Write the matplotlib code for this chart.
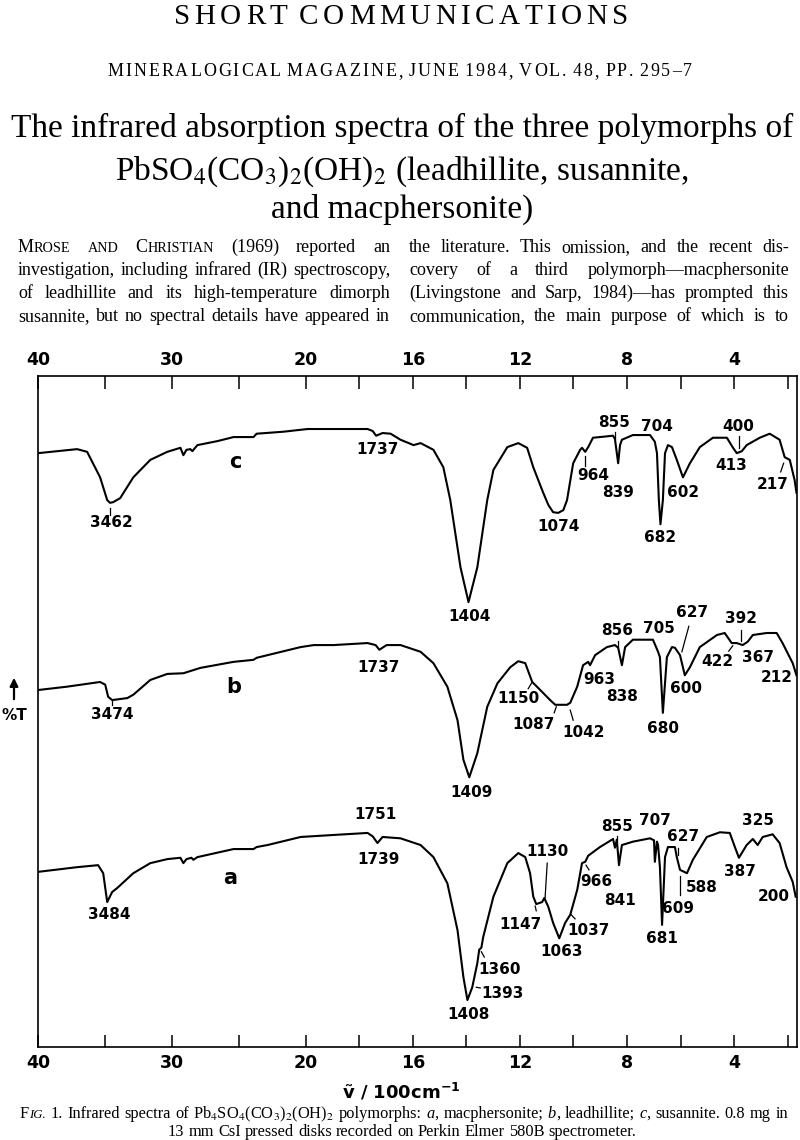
import numpy as np
import matplotlib
matplotlib.use('Agg')
import matplotlib.pyplot as plt
from matplotlib.patches import FancyArrowPatch

W, H = 800, 1140
SERIF = 'Liberation Serif'
SANS = 'DejaVu Sans'
plt.rcParams['mathtext.fontset'] = 'stix'

# spectrum c (susannite), wavenumber in cm-1 and relative %T
c_wn = [4000, 3708, 3633, 3536, 3483, 3462, 3438, 3386, 3288, 3161, 3034, 2936, 2914, 2891, 2862,
        2847, 2809, 2659, 2539, 2390, 2367, 2165, 1993, 1896, 1769, 1750, 1737, 1713, 1683, 1646,
        1597, 1571, 1523, 1486, 1460, 1422, 1392, 1359, 1322, 1299, 1247, 1206, 1173, 1150, 1113,
        1094, 1076, 1057, 1038, 1024, 1001, 975, 968, 956, 945, 927, 901, 852, 845, 833,
        826, 819, 778, 714, 696, 688, 681, 675, 666, 658, 647, 632, 614, 591, 565,
        528, 479, 427, 404, 390, 371, 353, 304, 267, 230, 211, 192, 174, 167]
c_T = [88.5, 89.1, 88.7, 84.9, 81.5, 81.1, 81.2, 81.8, 84.9, 87.5, 88.7, 89.3, 88.2, 89.0, 89.1,
       88.8, 89.7, 90.3, 90.9, 90.9, 91.4, 91.7, 92.1, 92.1, 92.1, 91.8, 91.1, 91.5, 91.4, 90.5,
       89.7, 90.0, 89.0, 86.4, 81.5, 71.5, 66.3, 71.5, 81.5, 86.0, 89.4, 90.0, 89.3, 86.4, 82.6,
       80.8, 79.7, 79.6, 80.0, 81.5, 87.0, 89.0, 89.3, 88.7, 89.4, 90.8, 90.9, 91.1, 90.6, 87.0,
       89.7, 90.5, 91.2, 91.2, 90.2, 88.5, 81.5, 77.9, 81.5, 88.5, 89.7, 89.4, 87.5, 84.9, 87.0,
       89.4, 90.8, 90.8, 89.3, 88.5, 88.8, 89.7, 90.8, 91.4, 90.5, 87.9, 87.5, 84.5, 82.6]

# spectrum b (leadhillite)
b_wn = [4000, 3783, 3536, 3498, 3476, 3446, 3333, 3288, 3161, 3034, 2914, 2787, 2539, 2390, 2367,
        2285, 2038, 1970, 1896, 1769, 1739, 1725, 1698, 1646, 1571, 1523, 1471, 1433, 1411, 1389,
        1359, 1322, 1284, 1236, 1206, 1180, 1154, 1124, 1087, 1068, 1024, 1012, 986, 964, 945,
        938, 919, 875, 845, 833, 819, 807, 778, 703, 684, 677, 666, 651, 632, 621,
        602, 584, 565, 528, 464, 435, 409, 390, 368, 349, 330, 278, 241, 219, 200, 181, 167]
b_T = [53.2, 53.7, 54.4, 54.0, 52.2, 51.7, 52.0, 52.5, 54.7, 55.6, 55.7, 56.5, 57.4, 57.7, 58.0,
       58.4, 59.6, 59.9, 59.9, 60.2, 59.9, 59.2, 59.9, 59.9, 58.9, 57.2, 53.7, 48.7, 42.8, 40.2,
       43.8, 50.7, 54.2, 56.6, 57.5, 57.2, 54.4, 53.2, 51.7, 51.0, 51.0, 51.3, 53.7, 56.9, 57.4,
       56.9, 58.4, 59.6, 59.9, 59.5, 56.9, 59.6, 60.7, 60.7, 58.9, 58.1, 49.8, 58.1, 59.6, 59.5,
       58.4, 55.4, 56.6, 59.6, 61.4, 61.7, 60.2, 60.2, 59.9, 60.4, 61.4, 61.7, 61.7, 60.2, 58.7, 57.2, 55.4]

# spectrum a (macphersonite)
a_wn = [4000, 3708, 3551, 3513, 3483, 3446, 3408, 3288, 3161, 3034, 2936, 2914, 2891, 2854, 2839,
        2809, 2539, 2390, 2367, 2285, 2038, 1896, 1769, 1750, 1732, 1713, 1646, 1571, 1523, 1471,
        1433, 1411, 1396, 1378, 1359, 1352, 1344, 1337, 1299, 1247, 1206, 1180, 1162, 1150, 1139,
        1117, 1109, 1094, 1076, 1053, 1031, 1012, 986, 968, 956, 945, 901, 852, 845, 838,
        830, 819, 778, 714, 699, 696, 688, 684, 677, 669, 658, 647, 621, 614, 602,
        576, 554, 502, 453, 416, 397, 382, 353, 330, 312, 293, 256, 230, 204, 181, 170]
a_T = [26.1, 26.8, 27.1, 25.9, 21.6, 23.1, 23.7, 25.9, 27.4, 28.0, 28.2, 27.4, 28.0, 28.2, 27.9,
       28.3, 29.5, 29.5, 29.8, 30.1, 31.3, 31.6, 31.9, 31.4, 30.4, 31.3, 31.1, 30.1, 28.3, 24.4,
       17.4, 10.4, 7.0, 8.9, 12.5, 14.5, 14.8, 16.4, 22.4, 27.4, 28.9, 28.3, 25.9, 22.4, 21.3,
       21.6, 22.2, 20.9, 18.5, 16.2, 18.5, 19.7, 23.4, 27.4, 27.6, 28.5, 29.8, 31.0, 29.7, 30.9,
       27.1, 30.1, 30.6, 31.1, 30.8, 27.6, 30.6, 30.1, 26.8, 18.2, 28.3, 29.8, 29.8, 28.3, 26.4,
       25.9, 27.9, 31.3, 32.0, 31.9, 29.8, 28.2, 30.1, 31.0, 30.1, 31.3, 31.7, 30.4, 26.8, 24.6, 22.4]

# peak labels: text, wavenumber position, %T position
peak_txt = ['3462', '1737', '1404', '1074', '682', '964', '839', '855', '704', '602', '400', '413', '217',
            '3474', '1737', '1409', '1150', '1087', '1042', '963', '838', '856', '705', '680', '600',
            '627', '392', '422', '367', '212',
            '1751', '1739', '3484', '1408', '1393', '1360', '1147', '1130', '1063', '1037', '966',
            '841', '855', '707', '627', '681', '609', '588', '325', '387', '200']
peak_wn = [3453, 1732, 1389, 1057, 675, 927, 833, 848, 688, 591, 386, 412, 256,
           3446, 1728, 1381, 1206, 1150, 964, 904, 819, 837, 681, 666, 580,
           558, 375, 464, 312, 241,
           1739, 1728, 3468, 1392, 1266, 1277, 1199, 1098, 1046, 942, 916,
           826, 837, 696, 591, 669, 610, 521, 312, 379, 252]
peak_T = [78.2, 89.1, 64.2, 77.6, 76.0, 85.2, 82.6, 93.1, 92.5, 82.7, 92.5, 86.6, 83.8,
          49.5, 56.6, 37.9, 51.9, 48.0, 46.8, 54.7, 52.2, 62.1, 62.3, 47.5, 53.4,
          64.7, 63.8, 57.4, 58.0, 55.0,
          34.6, 28.0, 19.7, 4.9, 8.0, 11.6, 18.2, 29.1, 14.2, 17.4, 24.6,
          21.9, 32.8, 33.8, 31.3, 16.2, 20.7, 23.8, 33.8, 26.1, 22.4]

# short leader lines from labels to bands: (wn0, T0, wn1, T1)
leaders = [(3462, 80.4, 3462, 79.3), (956, 88.1, 956, 86.6), (845, 91.7, 845, 90.6),
           (382, 91.1, 382, 89.3), (226, 85.7, 215, 87.0),
           (3446, 51.6, 3446, 50.9), (1169, 53.4, 1154, 54.4), (1072, 49.8, 1064, 50.7),
           (1001, 48.7, 1012, 50.2), (833, 60.5, 833, 59.6), (569, 62.7, 595, 58.9),
           (375, 62.1, 375, 60.5), (420, 59.0, 405, 59.8),
           (1363, 8.9, 1348, 8.8), (1344, 14.2, 1333, 13.4), (1143, 21.0, 1139, 20.3),
           (1106, 22.2, 1098, 27.4), (1008, 19.7, 994, 19.1), (953, 27.1, 942, 26.4),
           (837, 31.4, 837, 30.6), (610, 29.7, 610, 28.6), (602, 25.5, 602, 22.7)]

curve_names = ['c', 'b', 'a']
curve_wn = [2524, 2539, 2562]
curve_T = [87.2, 53.7, 25.2]

major_wn = [4000, 3000, 2000, 1600, 1200, 800, 400]
major_lbl = ['40', '30', '20', '16', '12', '8', '4']
minor_wn = [3500, 2500, 1800, 1400, 1000, 600, 200]


# PE 580B chart: scale doubles below 2000 cm-1
def fwd(w):
    w = np.asarray(w, dtype=float)
    return np.where(w >= 2000, w, 2000 - 2 * (2000 - w))


def inv(u):
    u = np.asarray(u, dtype=float)
    return np.where(u >= 2000, u, 2000 - (2000 - u) / 2)


fig = plt.figure(figsize=(8, 11.4), dpi=100)
fig.patch.set_facecolor('white')
rend = fig.canvas.get_renderer()


def fp(x, y):
    return (x / W, 1 - y / H)


def put_words(words, y, size, x0=None, x1=None, center=None):
    placed, widths = [], []
    for word in words:
        if isinstance(word, str):
            word = [(word, 1.0, 'normal')]
        parts = []
        for txt, sc, st in word:
            t = fig.text(0, 0, txt, fontsize=size * sc, family=SERIF, style=st,
                         va='baseline', ha='left')
            parts.append((t, t.get_window_extent(rend).width))
        placed.append(parts)
        widths.append(sum(p[1] for p in parts))
    if center is None:
        gap = (x1 - x0 - sum(widths)) / (len(words) - 1)
        x = x0
    else:
        gap = size * 100 / 72 * 0.25
        x = center - (sum(widths) + gap * (len(words) - 1)) / 2
    for parts in placed:
        for t, w in parts:
            t.set_position(fp(x, y))
            x += w
        x += gap


def tracked(s, y, size, x0, x1):
    words = s.split(' ')
    objs = []
    for word in words:
        row = []
        for ch in word:
            t = fig.text(0, 0, ch, fontsize=size, family=SERIF, va='baseline', ha='left')
            row.append((t, t.get_window_extent(rend).width))
        objs.append(row)
    space = size * 100 / 72 * 0.25
    total = sum(w for row in objs for _, w in row) + space * (len(words) - 1)
    ngap = sum(len(row) for row in objs) - 1
    g = (x1 - x0 - total) / ngap
    x = x0
    for row in objs:
        for t, w in row:
            t.set_position(fp(x, y))
            x += w + g
        x += space


# page header and title
tracked('SHORT COMMUNICATIONS', 24, 21, 174, 628)
tracked('MINERALOGICAL MAGAZINE, JUNE 1984, VOL. 48, PP. 295\u20137', 76, 13, 108, 692)
fig.text(*fp(402, 137), 'The infrared absorption spectra of the three polymorphs of',
         family=SERIF, fontsize=24, ha='center', va='baseline')
fig.text(*fp(402, 180), r'PbSO$_4$(CO$_3$)$_2$(OH)$_2$ (leadhillite, susannite,',
         family=SERIF, fontsize=24, ha='center', va='baseline')
fig.text(*fp(402, 218), 'and macphersonite)',
         family=SERIF, fontsize=24, ha='center', va='baseline')

# two-column paragraph
SC = 0.78
left_lines = [
    [[('M', 1, 'normal'), ('ROSE', SC, 'normal')], [('AND', SC, 'normal')],
     [('C', 1, 'normal'), ('HRISTIAN', SC, 'normal')], '(1969)', 'reported', 'an'],
    'investigation, including infrared (IR) spectroscopy,'.split(),
    'of leadhillite and its high-temperature dimorph'.split(),
    'susannite, but no spectral details have appeared in'.split(),
]
right_lines = [
    'the literature. This omission, and the recent dis-'.split(),
    'covery of a third polymorph\u2014macphersonite'.split(),
    '(Livingstone and Sarp, 1984)\u2014has prompted this'.split(),
    'communication, the main purpose of which is to'.split(),
]
for i, (lw, rw) in enumerate(zip(left_lines, right_lines)):
    yb = 252 + i * 23
    put_words(lw, yb, 13, 18, 390)
    put_words(rw, yb, 13, 409, 789)

# the spectra
ax = fig.add_axes([38 / W, 1 - 1047 / H, (797 - 38) / W, (1047 - 376) / H])
ax.set_xscale('function', functions=(fwd, inv))
ax.set_xlim(4000, 165)
ax.set_ylim(0, 100)
for wn, tr in [(c_wn, c_T), (b_wn, b_T), (a_wn, a_T)]:
    ax.plot(wn, tr, color='black', lw=1.5, solid_joinstyle='round')

for s, w, t in zip(peak_txt, peak_wn, peak_T):
    ax.text(w, t, s, ha='center', va='center', fontsize=11, fontweight='bold', family=SANS)
for w0, t0, w1, t1 in leaders:
    ax.plot([w0, w1], [t0, t1], color='black', lw=0.9)
for s, w, t in zip(curve_names, curve_wn, curve_T):
    ax.text(w, t, s, ha='center', va='center', fontsize=15, fontweight='bold', family=SANS)

ax.set_xticks(major_wn)
ax.set_xticklabels(major_lbl)
ax.set_xticks(minor_wn, minor=True)
ax.set_yticks([])
ax.tick_params(axis='x', which='both', direction='in', length=9, width=1.1,
               top=True, bottom=True, labeltop=True, labelbottom=True, pad=5)
for tk in ax.xaxis.get_major_ticks():
    for lab in (tk.label1, tk.label2):
        lab.set_fontweight('bold')
        lab.set_fontsize(12.5)
        lab.set_family(SANS)
for sp in ax.spines.values():
    sp.set_linewidth(1.2)

fig.text(*fp(401, 1092), 'ṽ / 100cm$^{\\mathbf{-1}}$', ha='center', va='center',
         fontsize=13, fontweight='bold', family=SANS, math_fontfamily='dejavusans')

# %T axis hint
fig.text(*fp(14, 716), '%T', ha='center', va='center', fontsize=11, fontweight='bold', family=SANS)
fig.add_artist(FancyArrowPatch(posA=fp(14, 702), posB=fp(14, 675), transform=fig.transFigure,
                               arrowstyle='-|>', mutation_scale=12, lw=1.6, color='black'))

# caption
cap1 = [[('F', 1, 'normal'), ('IG.', SC, 'italic')], '1.', 'Infrared', 'spectra', 'of',
        r'Pb$_4$SO$_4$(CO$_3$)$_2$(OH)$_2$', 'polymorphs:',
        [('a', 1, 'italic'), (',', 1, 'normal')], 'macphersonite;',
        [('b', 1, 'italic'), (',', 1, 'normal')], 'leadhillite;',
        [('c', 1, 'italic'), (',', 1, 'normal')], 'susannite.', '0.8', 'mg', 'in']
put_words(cap1, 1118, 11.8, 20, 788)
put_words('13 mm CsI pressed disks recorded on Perkin Elmer 580B spectrometer.'.split(),
          1136, 11.8, center=402)

fig.savefig('out.png', dpi=100, facecolor='white')
